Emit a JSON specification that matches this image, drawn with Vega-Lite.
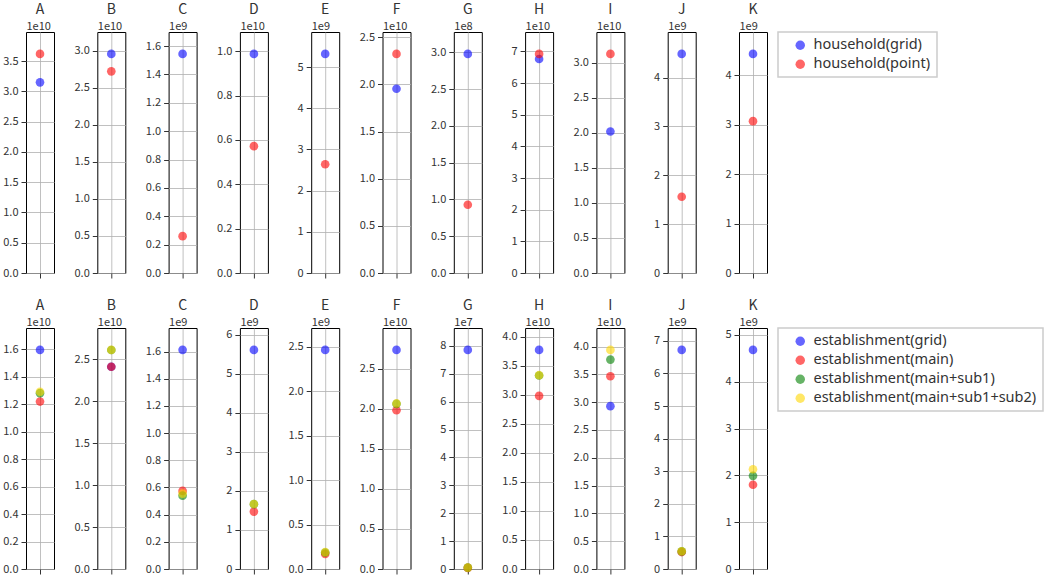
{
  "$schema": "https://vega.github.io/schema/vega-lite/v6.json",
  "padding": {"left": 2, "top": 2, "right": 2, "bottom": 0},
  "background": "white",
  "data": {"values": [
    {"row": 1, "panel": "A", "series": "household(grid)", "value": 3.15e10},
    {"row": 1, "panel": "A", "series": "household(point)", "value": 3.62e10},
    {"row": 1, "panel": "B", "series": "household(grid)", "value": 2.955e10},
    {"row": 1, "panel": "B", "series": "household(point)", "value": 2.72e10},
    {"row": 1, "panel": "C", "series": "household(grid)", "value": 1.545e9},
    {"row": 1, "panel": "C", "series": "household(point)", "value": 0.26e9},
    {"row": 1, "panel": "D", "series": "household(grid)", "value": 0.988e10},
    {"row": 1, "panel": "D", "series": "household(point)", "value": 0.572e10},
    {"row": 1, "panel": "E", "series": "household(grid)", "value": 5.32e9},
    {"row": 1, "panel": "E", "series": "household(point)", "value": 2.64e9},
    {"row": 1, "panel": "F", "series": "household(grid)", "value": 1.953e10},
    {"row": 1, "panel": "F", "series": "household(point)", "value": 2.323e10},
    {"row": 1, "panel": "G", "series": "household(grid)", "value": 2.977e8},
    {"row": 1, "panel": "G", "series": "household(point)", "value": 0.928e8},
    {"row": 1, "panel": "H", "series": "household(grid)", "value": 6.76e10},
    {"row": 1, "panel": "H", "series": "household(point)", "value": 6.92e10},
    {"row": 1, "panel": "I", "series": "household(grid)", "value": 2.021e10},
    {"row": 1, "panel": "I", "series": "household(point)", "value": 3.129e10},
    {"row": 1, "panel": "J", "series": "household(grid)", "value": 4.484e9},
    {"row": 1, "panel": "J", "series": "household(point)", "value": 1.56e9},
    {"row": 1, "panel": "K", "series": "household(grid)", "value": 4.43e9},
    {"row": 1, "panel": "K", "series": "household(point)", "value": 3.07e9},
    {"row": 2, "panel": "A", "series": "establishment(grid)", "value": 1.595e10},
    {"row": 2, "panel": "A", "series": "establishment(main)", "value": 1.219e10},
    {"row": 2, "panel": "A", "series": "establishment(main+sub1)", "value": 1.28e10},
    {"row": 2, "panel": "A", "series": "establishment(main+sub1+sub2)", "value": 1.29e10},
    {"row": 2, "panel": "B", "series": "establishment(grid)", "value": 2.41e10},
    {"row": 2, "panel": "B", "series": "establishment(main)", "value": 2.41e10},
    {"row": 2, "panel": "B", "series": "establishment(main+sub1)", "value": 2.61e10},
    {"row": 2, "panel": "B", "series": "establishment(main+sub1+sub2)", "value": 2.611e10},
    {"row": 2, "panel": "C", "series": "establishment(grid)", "value": 1.613e9},
    {"row": 2, "panel": "C", "series": "establishment(main)", "value": 0.575e9},
    {"row": 2, "panel": "C", "series": "establishment(main+sub1)", "value": 0.54e9},
    {"row": 2, "panel": "C", "series": "establishment(main+sub1+sub2)", "value": 0.555e9},
    {"row": 2, "panel": "D", "series": "establishment(grid)", "value": 5.61e9},
    {"row": 2, "panel": "D", "series": "establishment(main)", "value": 1.47e9},
    {"row": 2, "panel": "D", "series": "establishment(main+sub1)", "value": 1.66e9},
    {"row": 2, "panel": "D", "series": "establishment(main+sub1+sub2)", "value": 1.665e9},
    {"row": 2, "panel": "E", "series": "establishment(grid)", "value": 2.463e9},
    {"row": 2, "panel": "E", "series": "establishment(main)", "value": 0.17e9},
    {"row": 2, "panel": "E", "series": "establishment(main+sub1)", "value": 0.185e9},
    {"row": 2, "panel": "E", "series": "establishment(main+sub1+sub2)", "value": 0.19e9},
    {"row": 2, "panel": "F", "series": "establishment(grid)", "value": 2.733e10},
    {"row": 2, "panel": "F", "series": "establishment(main)", "value": 1.98e10},
    {"row": 2, "panel": "F", "series": "establishment(main+sub1)", "value": 2.06e10},
    {"row": 2, "panel": "F", "series": "establishment(main+sub1+sub2)", "value": 2.065e10},
    {"row": 2, "panel": "G", "series": "establishment(grid)", "value": 7.857e7},
    {"row": 2, "panel": "G", "series": "establishment(main)", "value": 0.04e7},
    {"row": 2, "panel": "G", "series": "establishment(main+sub1)", "value": 0.05e7},
    {"row": 2, "panel": "G", "series": "establishment(main+sub1+sub2)", "value": 0.05e7},
    {"row": 2, "panel": "H", "series": "establishment(grid)", "value": 3.77e10},
    {"row": 2, "panel": "H", "series": "establishment(main)", "value": 2.98e10},
    {"row": 2, "panel": "H", "series": "establishment(main+sub1)", "value": 3.33e10},
    {"row": 2, "panel": "H", "series": "establishment(main+sub1+sub2)", "value": 3.335e10},
    {"row": 2, "panel": "I", "series": "establishment(grid)", "value": 2.928e10},
    {"row": 2, "panel": "I", "series": "establishment(main)", "value": 3.467e10},
    {"row": 2, "panel": "I", "series": "establishment(main+sub1)", "value": 3.766e10},
    {"row": 2, "panel": "I", "series": "establishment(main+sub1+sub2)", "value": 3.94e10},
    {"row": 2, "panel": "J", "series": "establishment(grid)", "value": 6.724e9},
    {"row": 2, "panel": "J", "series": "establishment(main)", "value": 0.52e9},
    {"row": 2, "panel": "J", "series": "establishment(main+sub1)", "value": 0.54e9},
    {"row": 2, "panel": "J", "series": "establishment(main+sub1+sub2)", "value": 0.545e9},
    {"row": 2, "panel": "K", "series": "establishment(grid)", "value": 4.68e9},
    {"row": 2, "panel": "K", "series": "establishment(main)", "value": 1.80e9},
    {"row": 2, "panel": "K", "series": "establishment(main+sub1)", "value": 1.99e9},
    {"row": 2, "panel": "K", "series": "establishment(main+sub1+sub2)", "value": 2.13e9}
  ]},
  "resolve": {"scale": {"color": "independent"}, "legend": {"color": "independent"}},
  "spacing": 19,
  "vconcat": [
    {
      "spacing": 43.3,
      "bounds": "flush",
      "hconcat": [
        {"title": "A", "width": 28, "height": 241, "transform": [{"filter": "datum.row === 1 && datum.panel === 'A'"}], "mark": {"type": "circle", "size": 75, "opacity": 0.6},
         "encoding": {"x": {"field": "panel", "type": "nominal", "scale": {"type": "point", "padding": 0.5}, "axis": {"labels": false, "title": null}},
          "y": {"field": "value", "type": "quantitative", "scale": {"domain": [0, 3.982e10], "nice": false, "zero": true}, "axis": {"title": "1e10", "values": [0, 5e9, 1e10, 1.5e10, 2e10, 2.5e10, 3e10, 3.5e10], "labelExpr": "format(datum.value/1e10, '.1f')"}},
          "color": {"field": "series", "type": "nominal", "title": null, "scale": {"domain": ["household(grid)", "household(point)"], "range": ["#0000ff", "#ff0000"]}}}},
        {"title": "B", "width": 28, "height": 241, "transform": [{"filter": "datum.row === 1 && datum.panel === 'B'"}], "mark": {"type": "circle", "size": 75, "opacity": 0.6},
         "encoding": {"x": {"field": "panel", "type": "nominal", "scale": {"type": "point", "padding": 0.5}, "axis": {"labels": false, "title": null}},
          "y": {"field": "value", "type": "quantitative", "scale": {"domain": [0, 3.2505e10], "nice": false}, "axis": {"title": "1e10", "values": [0, 5e9, 1e10, 1.5e10, 2e10, 2.5e10, 3e10], "labelExpr": "format(datum.value/1e10, '.1f')"}},
          "color": {"field": "series", "type": "nominal", "title": null, "scale": {"domain": ["household(grid)", "household(point)"], "range": ["#0000ff", "#ff0000"]}}}},
        {"title": "C", "width": 28, "height": 241, "transform": [{"filter": "datum.row === 1 && datum.panel === 'C'"}], "mark": {"type": "circle", "size": 75, "opacity": 0.6},
         "encoding": {"x": {"field": "panel", "type": "nominal", "scale": {"type": "point", "padding": 0.5}, "axis": {"labels": false, "title": null}},
          "y": {"field": "value", "type": "quantitative", "scale": {"domain": [0, 1.6995e9], "nice": false}, "axis": {"title": "1e9", "values": [0, 2e8, 4e8, 6e8, 8e8, 1e9, 1.2e9, 1.4e9, 1.6e9], "labelExpr": "format(datum.value/1e9, '.1f')"}},
          "color": {"field": "series", "type": "nominal", "title": null, "scale": {"domain": ["household(grid)", "household(point)"], "range": ["#0000ff", "#ff0000"]}}}},
        {"title": "D", "width": 28, "height": 241, "transform": [{"filter": "datum.row === 1 && datum.panel === 'D'"}], "mark": {"type": "circle", "size": 75, "opacity": 0.6},
         "encoding": {"x": {"field": "panel", "type": "nominal", "scale": {"type": "point", "padding": 0.5}, "axis": {"labels": false, "title": null}},
          "y": {"field": "value", "type": "quantitative", "scale": {"domain": [0, 1.0868e10], "nice": false}, "axis": {"title": "1e10", "values": [0, 2e9, 4e9, 6e9, 8e9, 1e10], "labelExpr": "format(datum.value/1e10, '.1f')"}},
          "color": {"field": "series", "type": "nominal", "title": null, "scale": {"domain": ["household(grid)", "household(point)"], "range": ["#0000ff", "#ff0000"]}}}},
        {"title": "E", "width": 28, "height": 241, "transform": [{"filter": "datum.row === 1 && datum.panel === 'E'"}], "mark": {"type": "circle", "size": 75, "opacity": 0.6},
         "encoding": {"x": {"field": "panel", "type": "nominal", "scale": {"type": "point", "padding": 0.5}, "axis": {"labels": false, "title": null}},
          "y": {"field": "value", "type": "quantitative", "scale": {"domain": [0, 5.852e9], "nice": false}, "axis": {"title": "1e9", "values": [0, 1e9, 2e9, 3e9, 4e9, 5e9], "labelExpr": "format(datum.value/1e9, 'd')"}},
          "color": {"field": "series", "type": "nominal", "title": null, "scale": {"domain": ["household(grid)", "household(point)"], "range": ["#0000ff", "#ff0000"]}}}},
        {"title": "F", "width": 28, "height": 241, "transform": [{"filter": "datum.row === 1 && datum.panel === 'F'"}], "mark": {"type": "circle", "size": 75, "opacity": 0.6},
         "encoding": {"x": {"field": "panel", "type": "nominal", "scale": {"type": "point", "padding": 0.5}, "axis": {"labels": false, "title": null}},
          "y": {"field": "value", "type": "quantitative", "scale": {"domain": [0, 2.555e10], "nice": false}, "axis": {"title": "1e10", "values": [0, 5e9, 1e10, 1.5e10, 2e10, 2.5e10], "labelExpr": "format(datum.value/1e10, '.1f')"}},
          "color": {"field": "series", "type": "nominal", "title": null, "scale": {"domain": ["household(grid)", "household(point)"], "range": ["#0000ff", "#ff0000"]}}}},
        {"title": "G", "width": 28, "height": 241, "transform": [{"filter": "datum.row === 1 && datum.panel === 'G'"}], "mark": {"type": "circle", "size": 75, "opacity": 0.6},
         "encoding": {"x": {"field": "panel", "type": "nominal", "scale": {"type": "point", "padding": 0.5}, "axis": {"labels": false, "title": null}},
          "y": {"field": "value", "type": "quantitative", "scale": {"domain": [0, 3.275e8], "nice": false}, "axis": {"title": "1e8", "values": [0, 5e7, 1e8, 1.5e8, 2e8, 2.5e8, 3e8], "labelExpr": "format(datum.value/1e8, '.1f')"}},
          "color": {"field": "series", "type": "nominal", "title": null, "scale": {"domain": ["household(grid)", "household(point)"], "range": ["#0000ff", "#ff0000"]}}}},
        {"title": "H", "width": 28, "height": 241, "transform": [{"filter": "datum.row === 1 && datum.panel === 'H'"}], "mark": {"type": "circle", "size": 75, "opacity": 0.6},
         "encoding": {"x": {"field": "panel", "type": "nominal", "scale": {"type": "point", "padding": 0.5}, "axis": {"labels": false, "title": null}},
          "y": {"field": "value", "type": "quantitative", "scale": {"domain": [0, 7.612e10], "nice": false}, "axis": {"title": "1e10", "values": [0, 1e10, 2e10, 3e10, 4e10, 5e10, 6e10, 7e10], "labelExpr": "format(datum.value/1e10, 'd')"}},
          "color": {"field": "series", "type": "nominal", "title": null, "scale": {"domain": ["household(grid)", "household(point)"], "range": ["#0000ff", "#ff0000"]}}}},
        {"title": "I", "width": 28, "height": 241, "transform": [{"filter": "datum.row === 1 && datum.panel === 'I'"}], "mark": {"type": "circle", "size": 75, "opacity": 0.6},
         "encoding": {"x": {"field": "panel", "type": "nominal", "scale": {"type": "point", "padding": 0.5}, "axis": {"labels": false, "title": null}},
          "y": {"field": "value", "type": "quantitative", "scale": {"domain": [0, 3.442e10], "nice": false}, "axis": {"title": "1e10", "values": [0, 5e9, 1e10, 1.5e10, 2e10, 2.5e10, 3e10], "labelExpr": "format(datum.value/1e10, '.1f')"}},
          "color": {"field": "series", "type": "nominal", "title": null, "scale": {"domain": ["household(grid)", "household(point)"], "range": ["#0000ff", "#ff0000"]}}}},
        {"title": "J", "width": 28, "height": 241, "transform": [{"filter": "datum.row === 1 && datum.panel === 'J'"}], "mark": {"type": "circle", "size": 75, "opacity": 0.6},
         "encoding": {"x": {"field": "panel", "type": "nominal", "scale": {"type": "point", "padding": 0.5}, "axis": {"labels": false, "title": null}},
          "y": {"field": "value", "type": "quantitative", "scale": {"domain": [0, 4.932e9], "nice": false}, "axis": {"title": "1e9", "values": [0, 1e9, 2e9, 3e9, 4e9], "labelExpr": "format(datum.value/1e9, 'd')"}},
          "color": {"field": "series", "type": "nominal", "title": null, "scale": {"domain": ["household(grid)", "household(point)"], "range": ["#0000ff", "#ff0000"]}}}},
        {"title": "K", "width": 28, "height": 241, "transform": [{"filter": "datum.row === 1 && datum.panel === 'K'"}], "mark": {"type": "circle", "size": 75, "opacity": 0.6},
         "encoding": {"x": {"field": "panel", "type": "nominal", "scale": {"type": "point", "padding": 0.5}, "axis": {"labels": false, "title": null}},
          "y": {"field": "value", "type": "quantitative", "scale": {"domain": [0, 4.873e9], "nice": false}, "axis": {"title": "1e9", "values": [0, 1e9, 2e9, 3e9, 4e9], "labelExpr": "format(datum.value/1e9, 'd')"}},
          "color": {"field": "series", "type": "nominal", "title": null, "scale": {"domain": ["household(grid)", "household(point)"], "range": ["#0000ff", "#ff0000"]}}}}
      ]
    },
    {
      "spacing": 43.3,
      "bounds": "flush",
      "hconcat": [
        {"title": "A", "width": 28, "height": 241, "transform": [{"filter": "datum.row === 2 && datum.panel === 'A'"}], "mark": {"type": "circle", "size": 75, "opacity": 0.6},
         "encoding": {"x": {"field": "panel", "type": "nominal", "scale": {"type": "point", "padding": 0.5}, "axis": {"labels": false, "title": null}},
          "y": {"field": "value", "type": "quantitative", "scale": {"domain": [0, 1.7545e10], "nice": false}, "axis": {"title": "1e10", "values": [0, 2e9, 4e9, 6e9, 8e9, 1e10, 1.2e10, 1.4e10, 1.6e10], "labelExpr": "format(datum.value/1e10, '.1f')"}},
          "color": {"field": "series", "type": "nominal", "title": null, "scale": {"domain": ["establishment(grid)", "establishment(main)", "establishment(main+sub1)", "establishment(main+sub1+sub2)"], "range": ["#0000ff", "#ff0000", "#008000", "#ffd700"]}}}},
        {"title": "B", "width": 28, "height": 241, "transform": [{"filter": "datum.row === 2 && datum.panel === 'B'"}], "mark": {"type": "circle", "size": 75, "opacity": 0.6},
         "encoding": {"x": {"field": "panel", "type": "nominal", "scale": {"type": "point", "padding": 0.5}, "axis": {"labels": false, "title": null}},
          "y": {"field": "value", "type": "quantitative", "scale": {"domain": [0, 2.872e10], "nice": false}, "axis": {"title": "1e10", "values": [0, 5e9, 1e10, 1.5e10, 2e10, 2.5e10], "labelExpr": "format(datum.value/1e10, '.1f')"}},
          "color": {"field": "series", "type": "nominal", "title": null, "scale": {"domain": ["establishment(grid)", "establishment(main)", "establishment(main+sub1)", "establishment(main+sub1+sub2)"], "range": ["#0000ff", "#ff0000", "#008000", "#ffd700"]}}}},
        {"title": "C", "width": 28, "height": 241, "transform": [{"filter": "datum.row === 2 && datum.panel === 'C'"}], "mark": {"type": "circle", "size": 75, "opacity": 0.6},
         "encoding": {"x": {"field": "panel", "type": "nominal", "scale": {"type": "point", "padding": 0.5}, "axis": {"labels": false, "title": null}},
          "y": {"field": "value", "type": "quantitative", "scale": {"domain": [0, 1.774e9], "nice": false}, "axis": {"title": "1e9", "values": [0, 2e8, 4e8, 6e8, 8e8, 1e9, 1.2e9, 1.4e9, 1.6e9], "labelExpr": "format(datum.value/1e9, '.1f')"}},
          "color": {"field": "series", "type": "nominal", "title": null, "scale": {"domain": ["establishment(grid)", "establishment(main)", "establishment(main+sub1)", "establishment(main+sub1+sub2)"], "range": ["#0000ff", "#ff0000", "#008000", "#ffd700"]}}}},
        {"title": "D", "width": 28, "height": 241, "transform": [{"filter": "datum.row === 2 && datum.panel === 'D'"}], "mark": {"type": "circle", "size": 75, "opacity": 0.6},
         "encoding": {"x": {"field": "panel", "type": "nominal", "scale": {"type": "point", "padding": 0.5}, "axis": {"labels": false, "title": null}},
          "y": {"field": "value", "type": "quantitative", "scale": {"domain": [0, 6.171e9], "nice": false}, "axis": {"title": "1e9", "values": [0, 1e9, 2e9, 3e9, 4e9, 5e9, 6e9], "labelExpr": "format(datum.value/1e9, 'd')"}},
          "color": {"field": "series", "type": "nominal", "title": null, "scale": {"domain": ["establishment(grid)", "establishment(main)", "establishment(main+sub1)", "establishment(main+sub1+sub2)"], "range": ["#0000ff", "#ff0000", "#008000", "#ffd700"]}}}},
        {"title": "E", "width": 28, "height": 241, "transform": [{"filter": "datum.row === 2 && datum.panel === 'E'"}], "mark": {"type": "circle", "size": 75, "opacity": 0.6},
         "encoding": {"x": {"field": "panel", "type": "nominal", "scale": {"type": "point", "padding": 0.5}, "axis": {"labels": false, "title": null}},
          "y": {"field": "value", "type": "quantitative", "scale": {"domain": [0, 2.709e9], "nice": false}, "axis": {"title": "1e9", "values": [0, 5e8, 1e9, 1.5e9, 2e9, 2.5e9], "labelExpr": "format(datum.value/1e9, '.1f')"}},
          "color": {"field": "series", "type": "nominal", "title": null, "scale": {"domain": ["establishment(grid)", "establishment(main)", "establishment(main+sub1)", "establishment(main+sub1+sub2)"], "range": ["#0000ff", "#ff0000", "#008000", "#ffd700"]}}}},
        {"title": "F", "width": 28, "height": 241, "transform": [{"filter": "datum.row === 2 && datum.panel === 'F'"}], "mark": {"type": "circle", "size": 75, "opacity": 0.6},
         "encoding": {"x": {"field": "panel", "type": "nominal", "scale": {"type": "point", "padding": 0.5}, "axis": {"labels": false, "title": null}},
          "y": {"field": "value", "type": "quantitative", "scale": {"domain": [0, 3.006e10], "nice": false}, "axis": {"title": "1e10", "values": [0, 5e9, 1e10, 1.5e10, 2e10, 2.5e10], "labelExpr": "format(datum.value/1e10, '.1f')"}},
          "color": {"field": "series", "type": "nominal", "title": null, "scale": {"domain": ["establishment(grid)", "establishment(main)", "establishment(main+sub1)", "establishment(main+sub1+sub2)"], "range": ["#0000ff", "#ff0000", "#008000", "#ffd700"]}}}},
        {"title": "G", "width": 28, "height": 241, "transform": [{"filter": "datum.row === 2 && datum.panel === 'G'"}], "mark": {"type": "circle", "size": 75, "opacity": 0.6},
         "encoding": {"x": {"field": "panel", "type": "nominal", "scale": {"type": "point", "padding": 0.5}, "axis": {"labels": false, "title": null}},
          "y": {"field": "value", "type": "quantitative", "scale": {"domain": [0, 8.643e7], "nice": false}, "axis": {"title": "1e7", "values": [0, 1e7, 2e7, 3e7, 4e7, 5e7, 6e7, 7e7, 8e7], "labelExpr": "format(datum.value/1e7, 'd')"}},
          "color": {"field": "series", "type": "nominal", "title": null, "scale": {"domain": ["establishment(grid)", "establishment(main)", "establishment(main+sub1)", "establishment(main+sub1+sub2)"], "range": ["#0000ff", "#ff0000", "#008000", "#ffd700"]}}}},
        {"title": "H", "width": 28, "height": 241, "transform": [{"filter": "datum.row === 2 && datum.panel === 'H'"}], "mark": {"type": "circle", "size": 75, "opacity": 0.6},
         "encoding": {"x": {"field": "panel", "type": "nominal", "scale": {"type": "point", "padding": 0.5}, "axis": {"labels": false, "title": null}},
          "y": {"field": "value", "type": "quantitative", "scale": {"domain": [0, 4.147e10], "nice": false}, "axis": {"title": "1e10", "values": [0, 5e9, 1e10, 1.5e10, 2e10, 2.5e10, 3e10, 3.5e10, 4e10], "labelExpr": "format(datum.value/1e10, '.1f')"}},
          "color": {"field": "series", "type": "nominal", "title": null, "scale": {"domain": ["establishment(grid)", "establishment(main)", "establishment(main+sub1)", "establishment(main+sub1+sub2)"], "range": ["#0000ff", "#ff0000", "#008000", "#ffd700"]}}}},
        {"title": "I", "width": 28, "height": 241, "transform": [{"filter": "datum.row === 2 && datum.panel === 'I'"}], "mark": {"type": "circle", "size": 75, "opacity": 0.6},
         "encoding": {"x": {"field": "panel", "type": "nominal", "scale": {"type": "point", "padding": 0.5}, "axis": {"labels": false, "title": null}},
          "y": {"field": "value", "type": "quantitative", "scale": {"domain": [0, 4.334e10], "nice": false}, "axis": {"title": "1e10", "values": [0, 5e9, 1e10, 1.5e10, 2e10, 2.5e10, 3e10, 3.5e10, 4e10], "labelExpr": "format(datum.value/1e10, '.1f')"}},
          "color": {"field": "series", "type": "nominal", "title": null, "scale": {"domain": ["establishment(grid)", "establishment(main)", "establishment(main+sub1)", "establishment(main+sub1+sub2)"], "range": ["#0000ff", "#ff0000", "#008000", "#ffd700"]}}}},
        {"title": "J", "width": 28, "height": 241, "transform": [{"filter": "datum.row === 2 && datum.panel === 'J'"}], "mark": {"type": "circle", "size": 75, "opacity": 0.6},
         "encoding": {"x": {"field": "panel", "type": "nominal", "scale": {"type": "point", "padding": 0.5}, "axis": {"labels": false, "title": null}},
          "y": {"field": "value", "type": "quantitative", "scale": {"domain": [0, 7.396e9], "nice": false}, "axis": {"title": "1e9", "values": [0, 1e9, 2e9, 3e9, 4e9, 5e9, 6e9, 7e9], "labelExpr": "format(datum.value/1e9, 'd')"}},
          "color": {"field": "series", "type": "nominal", "title": null, "scale": {"domain": ["establishment(grid)", "establishment(main)", "establishment(main+sub1)", "establishment(main+sub1+sub2)"], "range": ["#0000ff", "#ff0000", "#008000", "#ffd700"]}}}},
        {"title": "K", "width": 28, "height": 241, "transform": [{"filter": "datum.row === 2 && datum.panel === 'K'"}], "mark": {"type": "circle", "size": 75, "opacity": 0.6},
         "encoding": {"x": {"field": "panel", "type": "nominal", "scale": {"type": "point", "padding": 0.5}, "axis": {"labels": false, "title": null}},
          "y": {"field": "value", "type": "quantitative", "scale": {"domain": [0, 5.148e9], "nice": false}, "axis": {"title": "1e9", "values": [0, 1e9, 2e9, 3e9, 4e9, 5e9], "labelExpr": "format(datum.value/1e9, 'd')"}},
          "color": {"field": "series", "type": "nominal", "title": null, "scale": {"domain": ["establishment(grid)", "establishment(main)", "establishment(main+sub1)", "establishment(main+sub1+sub2)"], "range": ["#0000ff", "#ff0000", "#008000", "#ffd700"]}}}}
      ]
    }
  ],
  "config": {
    "font": "Noto Sans CJK JP",
    "view": {"stroke": "#000000", "strokeWidth": 1},
    "title": {"fontSize": 14, "fontWeight": "normal", "color": "#333333", "frame": "group", "anchor": "middle", "baseline": "alphabetic", "offset": 3},
    "axis": {"domain": false, "grid": true, "gridColor": "#b0b0b0", "gridWidth": 0.8, "tickColor": "#333333", "tickSize": 5, "labelFontSize": 11, "labelColor": "#333333", "labelPadding": 3},
    "axisY": {"titleAngle": 0, "titleAlign": "left", "titleBaseline": "alphabetic", "titleX": 0, "titleY": -3, "titleFontSize": 11, "titleFontWeight": "normal", "titleColor": "#333333", "titlePadding": 0},
    "axisX": {"ticks": true, "labels": false},
    "legend": {"orient": "right", "offset": 10, "strokeColor": "#cccccc", "strokeWidth": 1.5, "fillColor": "white", "padding": 6, "symbolOffset": 9, "labelFontSize": 14.5, "labelFont": "Noto Sans", "labelColor": "#333333", "symbolSize": 90, "rowPadding": 4, "symbolType": "circle", "labelOffset": 6, "labelLimit": 400}
  }
}
